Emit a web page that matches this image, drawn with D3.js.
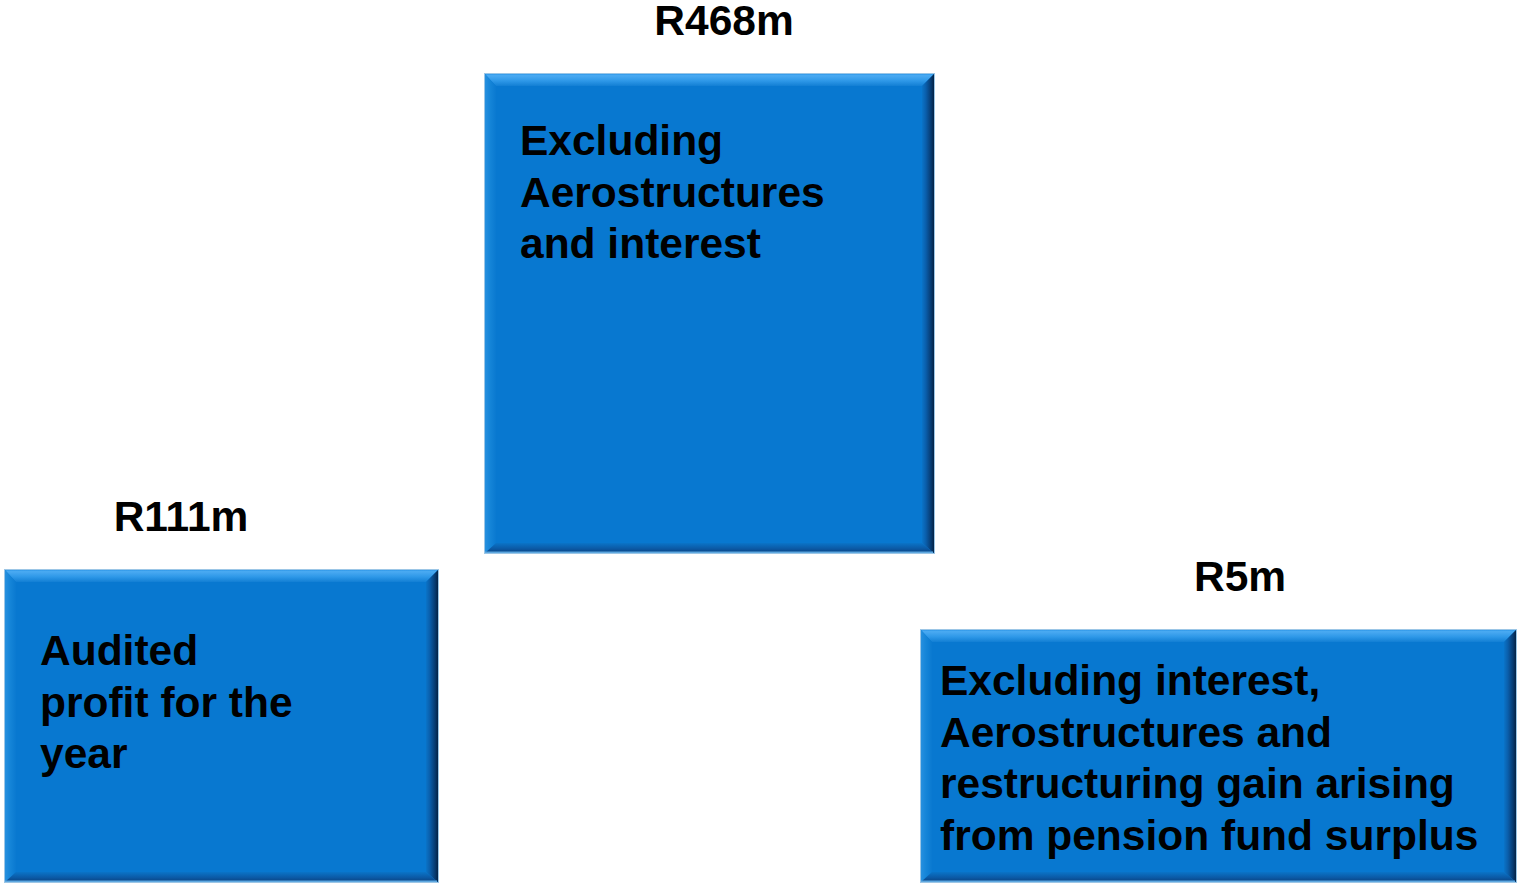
<!DOCTYPE html>
<html>
<head>
<meta charset="utf-8">
<script src="https://cdn.jsdelivr.net/npm/d3@7/dist/d3.min.js"></script>
<style>
  html, body { margin: 0; padding: 0; background: #ffffff; }
  svg { display: block; }
  text { font-family: "Liberation Sans", Arial, Helvetica, sans-serif; font-weight: bold; fill: #000; }
</style>
</head>
<body>
<svg id="chart" width="1517" height="885"></svg>
<script>
// Profit figures and their descriptions
const categories = ["Audited profit", "Excl. Aerostructures and interest", "Excl. interest, Aerostructures and restructuring"];
const values = [111, 468, 5];
const valueLabels = ["R111m", "R468m", "R5m"];
const descriptions = [
  ["Audited", "profit for the", "year"],
  ["Excluding", "Aerostructures", "and interest"],
  ["Excluding interest,", "Aerostructures and", "restructuring gain arising", "from pension fund surplus"]
];

// Layout of each panel (left, right, bottom, label and text offsets)
const layout = [
  { x0: 4,   x1: 439,  y1: 883, labelX: 181,  textX: 40,  textDy: 96 },
  { x0: 484, x1: 935,  y1: 554, labelX: 724,  textX: 520, textDy: 82 },
  { x0: 920, x1: 1517, y1: 883, labelX: 1240, textX: 940, textDy: 66 }
];

const svg = d3.select("#chart");

// Panel top is driven by the value through a piecewise scale
const yTop = d3.scaleLinear()
  .domain([5, 111, 468])
  .range([629, 569, 73]);

const fontSize = 42.5, lineH = 51.5;

// Gradients for the bevelled edges
const defs = svg.append("defs");
function grad(id, x1, y1, x2, y2, stops) {
  const g = defs.append("linearGradient").attr("id", id)
    .attr("x1", x1).attr("y1", y1).attr("x2", x2).attr("y2", y2);
  stops.forEach(s => g.append("stop").attr("offset", s[0]).attr("stop-color", s[1]));
}
grad("gTop", 0, 0, 0, 1, [[0, "#1e8ce2"], [0.2, "#4aaaf2"], [0.6, "#2e98e8"], [1, "#127fd4"]]);
grad("gLeft", 0, 0, 1, 0, [[0, "#2a92e0"], [0.5, "#1585d8"], [1, "#0a79d0"]]);
grad("gRight", 1, 0, 0, 0, [[0, "#031a36"], [0.3, "#073a70"], [0.7, "#0a5eab"], [1, "#0a74c8"]]);
grad("gBottom", 0, 1, 0, 0, [[0, "#0a3c78"], [0.5, "#0b5aa6"], [1, "#0a74c8"]]);

const data = categories.map((c, i) => ({
  category: c, value: values[i], label: valueLabels[i], lines: descriptions[i], ...layout[i]
}));

const panel = svg.selectAll("g.panel").data(data).join("g").attr("class", "panel");

panel.each(function(d) {
  const g = d3.select(this);
  const x0 = d.x0, x1 = d.x1, y0 = yTop(d.value), y1 = d.y1;
  const bt = 13, bl = 12, br = 13, bb = 11;

  g.append("rect").attr("x", x0).attr("y", y0).attr("width", x1 - x0).attr("height", y1 - y0)
    .attr("fill", "#0878d0");

  const poly = (pts, fill) => g.append("polygon")
    .attr("points", pts.map(p => p.join(",")).join(" ")).attr("fill", fill);

  poly([[x0, y0], [x1, y0], [x1 - br, y0 + bt], [x0 + bl, y0 + bt]], "url(#gTop)");
  poly([[x0, y0], [x0 + bl, y0 + bt], [x0 + bl, y1 - bb], [x0, y1]], "url(#gLeft)");
  poly([[x1, y0], [x1, y1], [x1 - br, y1 - bb], [x1 - br, y0 + bt]], "url(#gRight)");
  poly([[x0, y1], [x0 + bl, y1 - bb], [x1 - br, y1 - bb], [x1, y1]], "url(#gBottom)");

  // thin light rim along the bottom and outline
  g.append("line").attr("x1", x0).attr("x2", x1 - 2).attr("y1", y1 - 1.5).attr("y2", y1 - 1.5)
    .attr("stroke", "#5ea8e0").attr("stroke-width", 2);
  g.append("rect").attr("x", x0 + 0.5).attr("y", y0 + 0.5)
    .attr("width", x1 - x0 - 1).attr("height", y1 - y0 - 1)
    .attr("fill", "none").attr("stroke", "#9cc6e6").attr("stroke-width", 1);

  // value label above the panel
  g.append("text").attr("x", d.labelX).attr("y", y0 - 38)
    .attr("text-anchor", "middle").attr("font-size", fontSize).text(d.label);

  // description lines inside the panel
  g.append("text").attr("font-size", fontSize)
    .selectAll("tspan").data(d.lines).join("tspan")
    .attr("x", d.textX).attr("y", (l, i) => y0 + d.textDy + i * lineH)
    .text(l => l);
});
</script>
</body>
</html>
